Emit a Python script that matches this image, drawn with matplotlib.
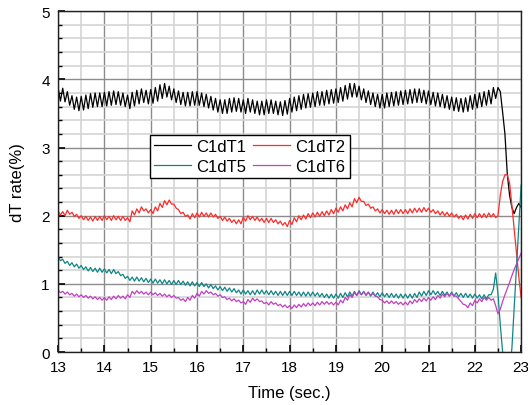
import numpy as np
import matplotlib
matplotlib.use("Agg")
from matplotlib import pyplot as plt
from matplotlib.ticker import MultipleLocator

plt.rcParams['font.family'] = ['Liberation Sans', 'DejaVu Sans']

# sampling every 0.05 s from 13 to 23 s
time = np.linspace(13.0, 23.0, 201)

c1dt1 = [
    3.88, 3.68, 3.87, 3.67, 3.82, 3.62, 3.76, 3.56, 3.74, 3.54, 3.75, 3.55, 3.77, 3.57, 3.79, 3.59, 3.80, 3.60, 3.80, 3.60,
    3.81, 3.61, 3.82, 3.62, 3.83, 3.63, 3.82, 3.62, 3.80, 3.60, 3.77, 3.57, 3.81, 3.61, 3.84, 3.64, 3.86, 3.66, 3.84, 3.64,
    3.85, 3.65, 3.88, 3.68, 3.92, 3.72, 3.94, 3.74, 3.90, 3.70, 3.86, 3.66, 3.83, 3.63, 3.81, 3.61, 3.81, 3.61, 3.82, 3.62,
    3.82, 3.62, 3.80, 3.60, 3.78, 3.58, 3.75, 3.55, 3.72, 3.52, 3.70, 3.50, 3.70, 3.50, 3.72, 3.52, 3.73, 3.53, 3.72, 3.52,
    3.70, 3.50, 3.72, 3.52, 3.70, 3.50, 3.68, 3.48, 3.68, 3.48, 3.70, 3.50, 3.70, 3.50, 3.68, 3.48, 3.67, 3.47, 3.69, 3.49,
    3.72, 3.52, 3.74, 3.54, 3.76, 3.56, 3.78, 3.58, 3.79, 3.59, 3.80, 3.60, 3.82, 3.62, 3.82, 3.62, 3.84, 3.64, 3.85, 3.65,
    3.86, 3.66, 3.88, 3.68, 3.91, 3.71, 3.94, 3.74, 3.94, 3.74, 3.90, 3.70, 3.86, 3.66, 3.83, 3.63, 3.80, 3.60, 3.78, 3.58,
    3.78, 3.58, 3.80, 3.60, 3.81, 3.61, 3.82, 3.62, 3.83, 3.63, 3.84, 3.64, 3.85, 3.65, 3.86, 3.66, 3.86, 3.66, 3.84, 3.64,
    3.83, 3.63, 3.81, 3.61, 3.80, 3.60, 3.78, 3.58, 3.76, 3.56, 3.74, 3.54, 3.73, 3.53, 3.72, 3.52, 3.73, 3.53, 3.76, 3.56,
    3.78, 3.58, 3.80, 3.60, 3.82, 3.62, 3.84, 3.64, 3.88, 3.72, 3.88, 3.82, 3.52, 3.20, 2.62, 2.30, 2.12, 2.03, 2.12, 2.18,
    2.12,
]

c1dt2 = [
    2.07, 2.01, 2.06, 2.00, 2.08, 2.02, 2.05, 1.99, 2.02, 1.96, 2.00, 1.94, 1.99, 1.93, 1.98, 1.92, 1.99, 1.93, 1.99, 1.93,
    2.00, 1.94, 1.99, 1.93, 2.00, 1.94, 1.99, 1.93, 1.99, 1.93, 1.97, 1.91, 2.07, 2.01, 2.10, 2.04, 2.13, 2.07, 2.10, 2.04,
    2.09, 2.03, 2.13, 2.07, 2.18, 2.12, 2.22, 2.16, 2.23, 2.17, 2.17, 2.11, 2.09, 2.03, 2.05, 1.99, 2.01, 1.95, 2.03, 1.97,
    2.04, 1.98, 2.05, 1.99, 2.04, 1.98, 2.04, 1.98, 2.02, 1.96, 1.99, 1.93, 1.98, 1.92, 1.96, 1.90, 1.94, 1.88, 1.94, 1.88,
    1.98, 1.92, 2.00, 1.94, 1.99, 1.93, 1.98, 1.92, 1.96, 1.90, 1.96, 1.90, 1.96, 1.90, 1.94, 1.88, 1.92, 1.86, 1.90, 1.84,
    1.93, 1.87, 1.97, 1.91, 2.00, 1.94, 2.01, 1.95, 2.03, 1.97, 2.04, 1.98, 2.05, 1.99, 2.06, 2.00, 2.07, 2.01, 2.09, 2.03,
    2.11, 2.05, 2.13, 2.07, 2.16, 2.10, 2.19, 2.13, 2.25, 2.19, 2.27, 2.21, 2.21, 2.15, 2.17, 2.11, 2.13, 2.07, 2.10, 2.04,
    2.09, 2.03, 2.08, 2.02, 2.08, 2.02, 2.09, 2.03, 2.09, 2.03, 2.09, 2.03, 2.10, 2.04, 2.11, 2.05, 2.11, 2.05, 2.12, 2.06,
    2.11, 2.05, 2.09, 2.03, 2.07, 2.01, 2.06, 2.00, 2.05, 1.99, 2.04, 1.98, 2.02, 1.96, 2.00, 1.94, 2.01, 1.95, 2.02, 1.96,
    2.03, 1.97, 2.03, 1.97, 2.03, 1.97, 2.04, 1.98, 2.03, 1.97, 2.00, 2.30, 2.50, 2.60, 2.60, 2.48, 2.15, 1.80, 1.45, 1.10,
    0.80,
]

c1dt5 = [
    1.40, 1.34, 1.36, 1.30, 1.33, 1.27, 1.31, 1.25, 1.29, 1.23, 1.27, 1.21, 1.25, 1.19, 1.24, 1.18, 1.23, 1.17, 1.23, 1.17,
    1.22, 1.16, 1.21, 1.15, 1.21, 1.15, 1.18, 1.12, 1.14, 1.08, 1.11, 1.05, 1.10, 1.04, 1.10, 1.04, 1.09, 1.03, 1.08, 1.02,
    1.07, 1.01, 1.07, 1.01, 1.06, 1.00, 1.06, 1.00, 1.05, 0.99, 1.05, 0.99, 1.05, 0.99, 1.04, 0.98, 1.03, 0.97, 1.03, 0.97,
    1.02, 0.96, 1.02, 0.96, 1.00, 0.94, 0.99, 0.93, 0.97, 0.91, 0.96, 0.90, 0.95, 0.89, 0.94, 0.88, 0.93, 0.87, 0.91, 0.85,
    0.91, 0.85, 0.90, 0.84, 0.90, 0.84, 0.91, 0.85, 0.91, 0.85, 0.90, 0.84, 0.90, 0.84, 0.89, 0.83, 0.89, 0.83, 0.89, 0.83,
    0.89, 0.83, 0.89, 0.83, 0.88, 0.82, 0.88, 0.82, 0.88, 0.82, 0.88, 0.82, 0.87, 0.81, 0.86, 0.80, 0.85, 0.79, 0.85, 0.79,
    0.85, 0.79, 0.86, 0.80, 0.87, 0.81, 0.88, 0.82, 0.89, 0.83, 0.90, 0.84, 0.89, 0.83, 0.88, 0.82, 0.88, 0.82, 0.87, 0.81,
    0.87, 0.81, 0.86, 0.80, 0.86, 0.80, 0.85, 0.79, 0.85, 0.79, 0.85, 0.79, 0.85, 0.79, 0.86, 0.80, 0.88, 0.82, 0.89, 0.83,
    0.90, 0.84, 0.90, 0.84, 0.89, 0.83, 0.89, 0.83, 0.88, 0.82, 0.88, 0.82, 0.87, 0.81, 0.86, 0.80, 0.86, 0.80, 0.85, 0.79,
    0.85, 0.79, 0.84, 0.78, 0.84, 0.78, 0.84, 0.84, 0.92, 1.16, 0.85, 0.40, 0.00, -0.30, -0.40, -0.25, 0.05, 0.65, 1.25, 1.85,
    2.45,
]

c1dt6 = [
    0.91, 0.87, 0.89, 0.85, 0.88, 0.84, 0.86, 0.82, 0.85, 0.81, 0.84, 0.80, 0.83, 0.79, 0.82, 0.78, 0.81, 0.77, 0.80, 0.76,
    0.80, 0.76, 0.81, 0.77, 0.82, 0.78, 0.83, 0.79, 0.82, 0.78, 0.84, 0.80, 0.89, 0.85, 0.90, 0.86, 0.89, 0.85, 0.88, 0.84,
    0.88, 0.84, 0.87, 0.83, 0.86, 0.82, 0.85, 0.81, 0.84, 0.80, 0.83, 0.79, 0.80, 0.76, 0.78, 0.74, 0.80, 0.76, 0.83, 0.79,
    0.86, 0.82, 0.89, 0.85, 0.90, 0.86, 0.88, 0.84, 0.86, 0.82, 0.84, 0.80, 0.81, 0.77, 0.79, 0.75, 0.78, 0.74, 0.76, 0.72,
    0.74, 0.70, 0.77, 0.73, 0.79, 0.75, 0.78, 0.74, 0.75, 0.71, 0.73, 0.69, 0.74, 0.70, 0.72, 0.68, 0.70, 0.66, 0.69, 0.65,
    0.68, 0.64, 0.69, 0.65, 0.70, 0.66, 0.71, 0.67, 0.72, 0.68, 0.72, 0.68, 0.73, 0.69, 0.74, 0.70, 0.74, 0.70, 0.73, 0.69,
    0.73, 0.69, 0.76, 0.72, 0.80, 0.76, 0.84, 0.80, 0.87, 0.83, 0.88, 0.84, 0.88, 0.84, 0.87, 0.83, 0.86, 0.82, 0.81, 0.77,
    0.76, 0.72, 0.75, 0.71, 0.75, 0.71, 0.74, 0.70, 0.73, 0.69, 0.73, 0.69, 0.75, 0.71, 0.77, 0.73, 0.78, 0.74, 0.79, 0.75,
    0.80, 0.76, 0.81, 0.77, 0.83, 0.79, 0.85, 0.81, 0.86, 0.82, 0.86, 0.82, 0.82, 0.78, 0.74, 0.70, 0.69, 0.65, 0.72, 0.68,
    0.76, 0.72, 0.78, 0.74, 0.80, 0.76, 0.80, 0.76, 0.78, 0.68, 0.56, 0.63, 0.74, 0.84, 0.93, 1.02, 1.12, 1.21, 1.29, 1.37,
    1.45,
]

series = [("C1dT1", c1dt1, "black"), ("C1dT2", c1dt2, "#ff2a2a"),
          ("C1dT5", c1dt5, "#108585"), ("C1dT6", c1dt6, "#c040c0")]

fig = plt.figure(figsize=(5.28, 4.06), dpi=100)
ax = fig.add_axes([0.11, 0.1305, 0.877, 0.8395])

lines = {}
for name, vals, col in series:
    lines[name], = ax.plot(time, vals, color=col, lw=0.9, label=name)

ax.set_xlim(13, 23)
ax.set_ylim(0, 5)
ax.xaxis.set_major_locator(MultipleLocator(1))
ax.xaxis.set_minor_locator(MultipleLocator(0.5))
ax.yaxis.set_major_locator(MultipleLocator(1))
ax.yaxis.set_minor_locator(MultipleLocator(0.2))
ax.grid(which='major', color='#8c8c8c', lw=1.0)
ax.grid(which='minor', color='#d4d4d4', lw=1.2)
ax.set_axisbelow(True)
ax.tick_params(which='both', direction='in', labelsize=11, top=False, right=False, pad=6)
ax.tick_params(which='major', length=5, width=1.2)
ax.tick_params(which='minor', length=3, width=1.0)
for sp in ax.spines.values():
    sp.set_color('#202020')
    sp.set_linewidth(1.0)

ax.set_xlabel("Time (sec.)", fontsize=12, labelpad=8)
ax.set_ylabel("dT rate(%)", fontsize=12, labelpad=12)

# legend rows: T1 T2 / T5 T6 (matplotlib fills by column)
order = ["C1dT1", "C1dT5", "C1dT2", "C1dT6"]
leg = ax.legend([lines[k] for k in order], order, ncol=2, loc='upper left',
                bbox_to_anchor=(0.198, 0.637), fontsize=12,
                handlelength=2.2, columnspacing=0.4, handletextpad=0.35,
                borderpad=0.25, labelspacing=0.3, borderaxespad=0,
                fancybox=False, framealpha=1)
leg.get_frame().set_edgecolor('black')
leg.get_frame().set_linewidth(1.0)

fig.savefig("out.png", dpi=100)
